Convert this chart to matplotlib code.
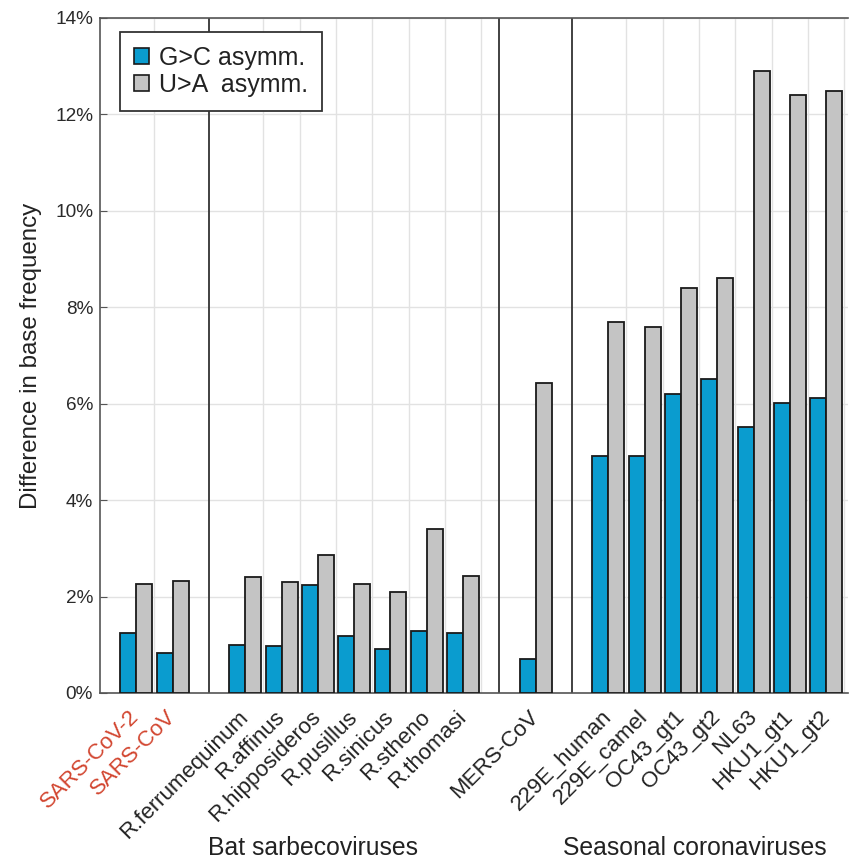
import matplotlib
matplotlib.use("Agg")
from matplotlib import pyplot as plt
from matplotlib.patches import Patch
import numpy as np

plt.rcParams['font.family'] = ['Liberation Sans', 'DejaVu Sans']

# virus groups, in plotting order
sars = ["SARS-CoV-2", "SARS-CoV"]
bats = ["R.ferrumequinum", "R.affinus", "R.hipposideros", "R.pusillus",
        "R.sinicus", "R.stheno", "R.thomasi"]
mers = ["MERS-CoV"]
seasonal = ["229E_human", "229E_camel", "OC43_gt1", "OC43_gt2",
            "NL63", "HKU1_gt1", "HKU1_gt2"]

# asymmetries in %, same order as above
gc_asym = [1.25, 0.83,
           0.99, 0.98, 2.24, 1.19, 0.92, 1.28, 1.25,
           0.70,
           4.91, 4.91, 6.21, 6.51, 5.51, 6.02, 6.12]
ua_asym = [2.26, 2.33,
           2.40, 2.30, 2.86, 2.26, 2.10, 3.41, 2.43,
           6.42,
           7.70, 7.60, 8.40, 8.60, 12.89, 12.40, 12.49]

blue = '#0a9ccf'
grey = '#c4c4c4'
red = '#d2452f'

# one empty slot between groups, used for the separator line
groups = [sars, bats, mers, seasonal]
names, xpos, seps, group_x = [], [], [], []
pos = 1
for i, g in enumerate(groups):
    if i > 0:
        seps.append(pos)
        pos += 1
    gx = []
    for name in g:
        names.append(name)
        xpos.append(pos)
        gx.append(pos)
        pos += 1
    group_x.append(gx)
xpos = np.array(xpos)

fig = plt.figure(figsize=(8.49, 8.63), dpi=100)
ax = fig.add_axes([0.1178, 0.197, 0.881, 0.7822])

w = 0.44
ax.bar(xpos - w / 2, gc_asym, w, color=blue, edgecolor='#1a1a1a', linewidth=1.3, zorder=3)
ax.bar(xpos + w / 2, ua_asym, w, color=grey, edgecolor='#1a1a1a', linewidth=1.3, zorder=3)

# light vertical grid between the bar pairs
grid_x = [xpos[0] + 0.5] + [p + 0.5 for p in group_x[1] + group_x[3]]
for gx in grid_x:
    ax.axvline(gx, color='#e2e2e2', linewidth=1.0, zorder=0)
for s in seps:
    ax.axvline(s, color='#333333', linewidth=1.3, zorder=2)

ax.set_xlim(0, 20.6)
ax.set_ylim(0, 14)
ax.set_yticks(np.arange(0, 15, 2))
ax.set_yticklabels([f'{v}%' for v in range(0, 15, 2)], fontsize=13.7, color='#2a2a2a')
ax.yaxis.grid(True, color='#e2e2e2', linewidth=1.0, zorder=0)
ax.set_axisbelow(True)
ax.tick_params(axis='y', direction='in', length=5, color='#555555', pad=5)
ax.tick_params(axis='x', length=0, pad=15)

ax.set_xticks(xpos)
ax.set_xticklabels(names, rotation=45, ha='right', va='center',
                   rotation_mode='anchor', fontsize=16, color='#222222')
for lbl in ax.get_xticklabels():
    if lbl.get_text() in sars:
        lbl.set_color(red)

for side in ['left', 'bottom', 'top']:
    ax.spines[side].set_color('#555555')
    ax.spines[side].set_linewidth(1.2)
ax.spines['right'].set_visible(False)

ax.set_ylabel('Difference in base frequency', fontsize=17.4, color='#222222')
ax.yaxis.set_label_coords(-0.078, 0.5)

handles = [Patch(facecolor=blue, edgecolor='#1a1a1a', linewidth=1.2),
           Patch(facecolor=grey, edgecolor='#1a1a1a', linewidth=1.2)]
leg = ax.legend(handles, ['G>C asymm.', 'U>A  asymm.'], loc='upper left',
                bbox_to_anchor=(0.027, 0.979), borderaxespad=0, fontsize=18,
                handlelength=0.6, handleheight=0.6, handletextpad=0.4,
                labelspacing=0.12, borderpad=0.55, fancybox=False, framealpha=1)
leg.get_frame().set_edgecolor('#333333')
leg.get_frame().set_linewidth(1.3)
for t in leg.get_texts():
    t.set_color('#222222')

fig.text(313 / 849, 0.0093, 'Bat sarbecoviruses', ha='center', va='baseline',
         fontsize=17.8, color='#222222')
fig.text(695 / 849, 0.0093, 'Seasonal coronaviruses', ha='center', va='baseline',
         fontsize=17.8, color='#222222')

fig.savefig('out.png', dpi=100)
